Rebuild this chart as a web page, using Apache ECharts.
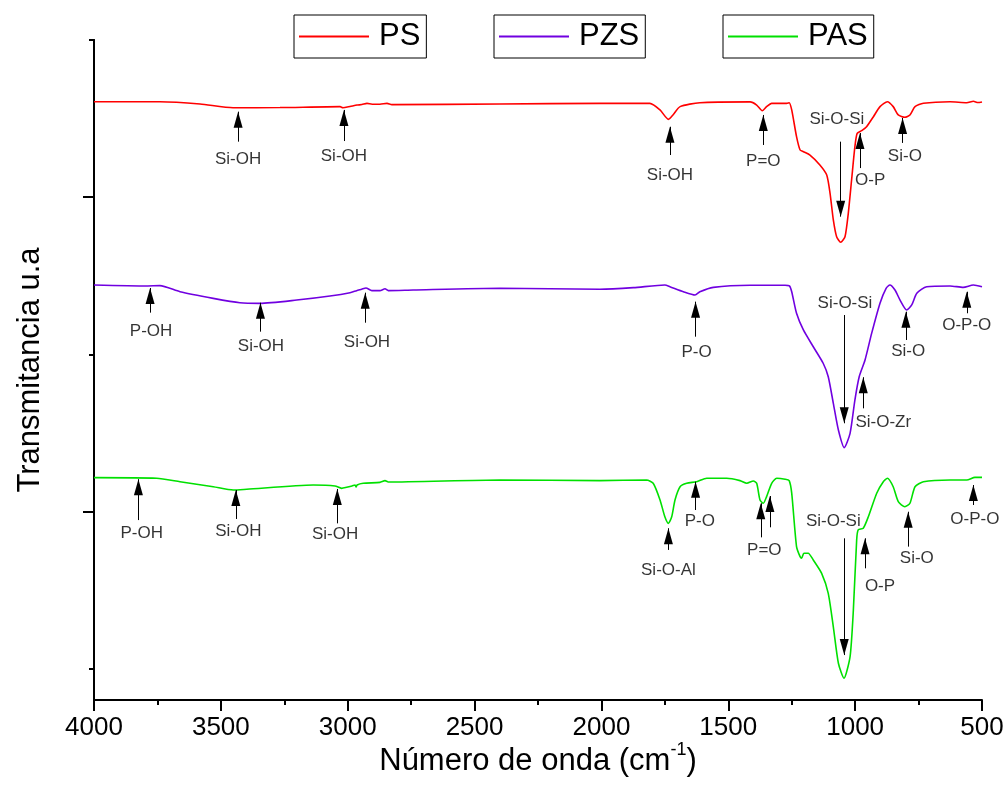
<!DOCTYPE html>
<html><head><meta charset="utf-8">
<script src="https://cdn.jsdelivr.net/npm/echarts@6.0.0/dist/echarts.min.js"></script>
<style>html,body{margin:0;padding:0;background:#fff}#c{width:1006px;height:802px}</style>
</head><body><div id="c"></div><script>
// ---- spectra (wavenumber cm-1, transmittance a.u.) ----
const WN_PS = [4000,3740,3582,3452,3267,3030,3019,2991,2963,2944,2924,2904,2873,2845,2826,2400,2006,1809,1769,1736,1718,1690,1612,1414,1388,1366,1349,1329,1270,1260,1250,1231,1217,1204,1178,1139,1112,1099,1086,1073,1057,1040,1027,1014,1001,992,974,955,928,902,873,850,830,804,784,764,731,626,560,534,516,500];
const T_PS = [3.807,3.807,3.793,3.769,3.770,3.776,3.769,3.777,3.786,3.789,3.797,3.791,3.791,3.797,3.789,3.793,3.797,3.797,3.755,3.695,3.723,3.776,3.801,3.806,3.786,3.750,3.776,3.797,3.797,3.801,3.755,3.585,3.500,3.489,3.468,3.405,3.341,3.226,3.055,2.948,2.913,2.948,3.097,3.309,3.521,3.606,3.623,3.648,3.712,3.776,3.807,3.776,3.723,3.708,3.723,3.776,3.797,3.807,3.801,3.810,3.802,3.806];

const WN_PZS = [4000,3792,3740,3661,3530,3425,3346,3201,3070,2991,2965,2945,2928,2905,2873,2853,2840,2742,2400,2006,1874,1750,1730,1677,1631,1612,1559,1414,1276,1259,1250,1231,1204,1165,1126,1106,1086,1066,1043,1020,1001,984,961,935,902,878,863,843,823,797,777,757,718,626,574,534,500];
const T_PZS = [2.641,2.635,2.637,2.598,2.556,2.528,2.524,2.545,2.571,2.592,2.605,2.614,2.622,2.605,2.605,2.617,2.605,2.609,2.620,2.614,2.624,2.641,2.630,2.598,2.577,2.598,2.626,2.639,2.639,2.635,2.598,2.461,2.355,2.248,2.143,2.057,1.888,1.718,1.606,1.697,1.909,2.057,2.164,2.333,2.525,2.620,2.641,2.609,2.545,2.482,2.514,2.588,2.630,2.635,2.626,2.641,2.630];

const WN_PAS = [4000,3753,3661,3530,3451,3398,3136,3050,3024,3004,2983,2971,2967,2963,2939,2873,2853,2840,2400,2006,1822,1796,1769,1750,1736,1723,1710,1690,1664,1625,1585,1506,1454,1427,1401,1388,1375,1362,1349,1329,1309,1276,1260,1250,1231,1217,1211,1202,1185,1165,1132,1106,1086,1066,1044,1020,1007,994,988,968,948,915,889,873,850,830,804,784,764,731,626,560,528,500];
const T_PAS = [1.415,1.411,1.389,1.357,1.336,1.341,1.368,1.362,1.347,1.354,1.362,1.368,1.355,1.368,1.379,1.385,1.396,1.387,1.400,1.396,1.400,1.379,1.273,1.166,1.124,1.166,1.273,1.357,1.379,1.389,1.411,1.411,1.396,1.379,1.394,1.379,1.273,1.252,1.294,1.379,1.411,1.405,1.396,1.316,0.976,0.912,0.902,0.934,0.934,0.891,0.806,0.679,0.466,0.234,0.138,0.276,0.573,1.018,1.082,1.093,1.166,1.316,1.389,1.411,1.357,1.262,1.230,1.252,1.357,1.389,1.400,1.400,1.417,1.417];

// ---- band annotations ----
const PS_LABELS = ['Si-OH','Si-OH','Si-OH','P=O','Si-O-Si','O-P','Si-O'];
const PS_ARROW_WN = [3432,3015,1730,1362,1057,981,813];
const PS_ARROW_FROM = [3.553,3.557,3.468,3.532,3.553,3.385,3.545];
const PS_ARROW_TO = [3.744,3.755,3.648,3.723,3.076,3.608,3.704];
const PS_LABEL_WN = [3432,3015,1730,1362,1072,941,804];
const PS_LABEL_T = [3.443,3.462,3.341,3.430,3.695,3.309,3.462];

const PZS_LABELS = ['P-OH','Si-OH','Si-OH','P-O','Si-O-Si','Si-O-Zr','Si-O','O-P-O'];
const PZS_ARROW_WN = [3779,3344,2931,1629,1043,968,800,560];
const PZS_ARROW_FROM = [2.465,2.344,2.401,2.312,2.450,1.856,2.291,2.461];
const PZS_ARROW_TO = [2.622,2.528,2.592,2.535,1.761,2.054,2.471,2.598];
const PZS_LABEL_WN = [3775,3342,2924,1625,1040,889,791,560];
const PZS_LABEL_T = [2.344,2.253,2.274,2.210,2.525,1.765,2.216,2.386];

const PAS_LABELS = ['P-OH','Si-OH','Si-OH','Si-O-Al','P-O','P=O','','Si-O-Si','O-P','Si-O','O-P-O'];
const PAS_ARROW_WN = [3825,3441,3041,1736,1629,1372,1336,1043,961,791,534];
const PAS_ARROW_FROM = [1.145,1.152,1.124,0.955,1.209,1.035,1.099,1.029,0.838,0.976,1.241];
const PAS_ARROW_TO = [1.405,1.336,1.343,1.093,1.389,1.252,1.298,0.286,1.029,1.198,1.368];
const PAS_LABEL_WN = [3812,3431,3050,1736,1612,1358,1336,1086,902,757,528];
const PAS_LABEL_T = [1.061,1.075,1.056,0.827,1.139,0.955,0,1.139,0.725,0.902,1.150];

const X_TICKS = [500,1000,1500,2000,2500,3000,3500,4000];

const FONT = '"Liberation Sans", Arial, Helvetica, sans-serif';

function spectrum(name, color, wn, t, labels, aWn, aFrom, aTo, lWn, lT) {
  const line = {
    type: 'line', name: name,
    data: wn.map((w, i) => [w, t[i]]),
    showSymbol: false, symbol: 'none',
    smooth: 0.22,
    lineStyle: { color: color, width: 1.6 },
    itemStyle: { color: color },
    emphasis: { disabled: true },
    z: 3,
    markLine: {
      silent: true,
      animation: false,
      symbol: ['none', 'triangle'],
      label: { show: false },
      emphasis: { disabled: true },
      lineStyle: { color: '#000', width: 1, type: 'solid' },
      data: aWn.map((w, i) => [
        { coord: [w, aFrom[i]], symbol: 'none' },
        { coord: [w, aTo[i]], symbol: 'triangle', symbolSize: [9, 16], symbolOffset: [0, 8] }
      ])
    }
  };
  const lab = {
    type: 'scatter', name: name + ' bands',
    data: labels.map((l, i) => ({ name: l, value: [lWn[i], lT[i]] })).filter(d => d.name),
    symbolSize: 1,
    itemStyle: { color: 'rgba(0,0,0,0)' },
    silent: true,
    z: 5,
    label: { show: true, position: 'inside', formatter: '{b}', fontSize: 17, color: '#000', fontFamily: FONT }
  };
  return [line, lab];
}

const legendCommon = {
  orient: 'horizontal', icon: 'rect', itemWidth: 70, itemHeight: 2,
  borderColor: '#000', borderWidth: 1, padding: [6, 6, 6, 5],
  selectedMode: false,
  textStyle: { fontSize: 31, color: '#000', fontFamily: FONT, padding: [0, 0, 0, 5] }
};

const axisBlack = { lineStyle: { color: '#000', width: 2 } };

const option = {
  animation: false,
  backgroundColor: '#fff',
  textStyle: { fontFamily: FONT },
  grid: { left: 94, right: 24, top: 40, bottom: 102, outerBoundsMode: 'none', containLabel: false },
  legend: [
    Object.assign({ data: ['PS'], left: 294, top: 15 }, legendCommon),
    Object.assign({ data: ['PZS'], left: 494, top: 15 }, legendCommon),
    Object.assign({ data: ['PAS'], left: 723, top: 15 }, legendCommon)
  ],
  xAxis: {
    type: 'value', inverse: true, min: 500, max: 4000, interval: 500,
    name: 'Número de onda (cm{sup|-1})',
    nameLocation: 'middle', nameGap: 41, nameMoveOverlap: false,
    nameTextStyle: { fontSize: 31, color: '#000', fontFamily: FONT, lineHeight: 40,
      rich: { sup: { fontSize: 18, color: '#000', fontFamily: FONT, verticalAlign: 'top', lineHeight: 18 } } },
    axisLine: axisBlack,
    axisTick: { show: true, length: 11, lineStyle: { color: '#000', width: 2 } },
    minorTick: { show: true, splitNumber: 2, length: 5, lineStyle: { color: '#000', width: 2 } },
    splitLine: { show: false },
    axisLabel: { fontSize: 26, color: '#000', margin: 15, fontFamily: FONT,
      customValues: X_TICKS, formatter: function (v) { return String(v); } }
  },
  yAxis: [
    {
      type: 'value', min: 0, max: 4.2, position: 'left',
      name: 'Transmitancia u.a', nameLocation: 'middle', nameGap: 48, nameRotate: 90,
      nameTextStyle: { fontSize: 31, color: '#000', fontFamily: FONT },
      axisLine: { show: true, lineStyle: { color: '#000', width: 2 } },
      axisTick: { show: true, length: 11, customValues: [1.2, 3.2], lineStyle: { color: '#000', width: 2 } },
      axisLabel: { show: false },
      splitLine: { show: false }
    },
    {
      type: 'value', min: 0, max: 4.2, position: 'left', offset: 0,
      axisLine: { show: true, lineStyle: { color: '#000', width: 2 } },
      axisTick: { show: true, length: 5, customValues: [0.2, 2.2, 4.2], lineStyle: { color: '#000', width: 2 } },
      axisLabel: { show: false },
      splitLine: { show: false }
    }
  ],
  series: [].concat(
    spectrum('PS', '#ff0000', WN_PS, T_PS, PS_LABELS, PS_ARROW_WN, PS_ARROW_FROM, PS_ARROW_TO, PS_LABEL_WN, PS_LABEL_T),
    spectrum('PZS', '#7000e0', WN_PZS, T_PZS, PZS_LABELS, PZS_ARROW_WN, PZS_ARROW_FROM, PZS_ARROW_TO, PZS_LABEL_WN, PZS_LABEL_T),
    spectrum('PAS', '#00e000', WN_PAS, T_PAS, PAS_LABELS, PAS_ARROW_WN, PAS_ARROW_FROM, PAS_ARROW_TO, PAS_LABEL_WN, PAS_LABEL_T)
  )
};

const chart = echarts.init(document.getElementById('c'), null, { renderer: 'canvas', width: 1006, height: 802 });
chart.setOption(option);
</script></body></html>
